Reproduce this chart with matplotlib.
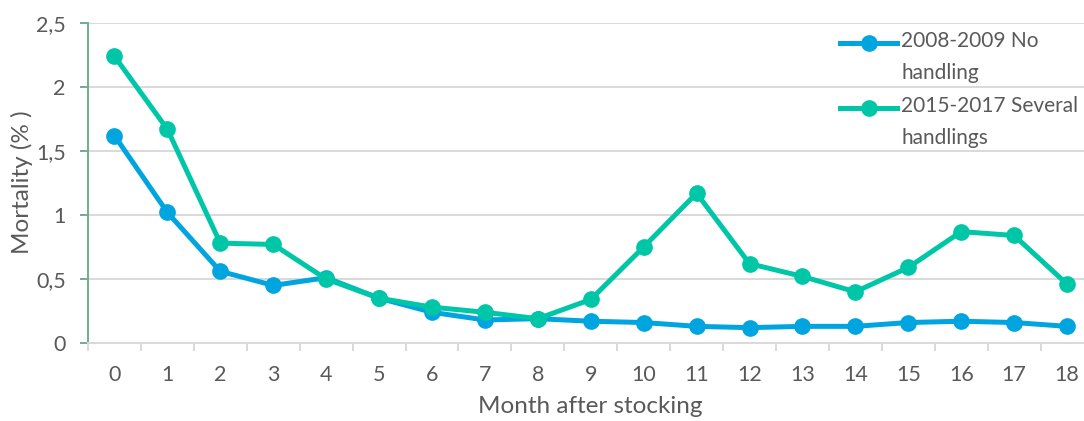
import matplotlib
matplotlib.use("Agg")
import matplotlib.pyplot as plt
import matplotlib.transforms as mtransforms
from matplotlib.legend_handler import HandlerLine2D
from matplotlib.ticker import FixedLocator, FuncFormatter

plt.rcParams["font.family"] = ["Lato", "DejaVu Sans"]

months = list(range(19))
no_handling = [1.62, 1.02, 0.56, 0.45, 0.51, 0.35, 0.24, 0.18, 0.19, 0.17,
               0.16, 0.13, 0.12, 0.13, 0.13, 0.16, 0.17, 0.16, 0.13]
several_handlings = [2.24, 1.67, 0.78, 0.77, 0.50, 0.35, 0.28, 0.24, 0.19, 0.34,
                     0.75, 1.17, 0.62, 0.52, 0.40, 0.59, 0.87, 0.84, 0.46]
series_labels = ["2008-2009 No\nhandling", "2015-2017 Several\nhandlings"]
y_ticks = [0, 0.5, 1, 1.5, 2, 2.5]

BLUE = "#00A5E0"
GREEN = "#00C6A8"
TEXT = "#595959"
GRID = "#D9D9D9"
AXIS_GREEN = "#70AD8E"

DPI = 100
W, H = 1084, 421
LEG_FS = 15
LEG_LS = 1.78          # line spacing inside the two-line legend labels
LEG_LINE_PX = 30       # resulting distance between the two lines, in pixels


class FirstLineHandler(HandlerLine2D):
    """Legend key aligned with the first line of a two-line label."""

    def create_artists(self, legend, orig_handle, xdescent, ydescent,
                       width, height, fontsize, trans):
        arts = super().create_artists(legend, orig_handle, xdescent, ydescent,
                                      width, height, fontsize, trans)
        shift = trans + mtransforms.Affine2D().translate(0, LEG_LINE_PX / 2)
        for a in arts:
            a.set_transform(shift)
        return arts


fig = plt.figure(figsize=(W / DPI, H / DPI), dpi=DPI)
ax = fig.add_axes([88 / W, 78 / H, 1005.5 / W, 320 / H])

ax.plot(months, no_handling, color=BLUE, lw=3.6, marker="o", ms=11,
        label=series_labels[0], zorder=3, solid_joinstyle="round")
ax.plot(months, several_handlings, color=GREEN, lw=3.6, marker="o", ms=11,
        label=series_labels[1], zorder=4, solid_joinstyle="round")

ax.set_xlim(-0.5, 18.5)
ax.set_ylim(0, 2.5)

ax.set_yticks(y_ticks)
ax.yaxis.set_major_formatter(FuncFormatter(lambda v, p: f"{v:g}".replace(".", ",")))
ax.set_xticks(months)
ax.xaxis.set_minor_locator(FixedLocator([m - 0.5 for m in months] + [18.5]))

ax.grid(axis="y", color=GRID, lw=1.4, zorder=0)
ax.set_axisbelow(True)

for s in ("top", "right"):
    ax.spines[s].set_visible(False)
ax.spines["bottom"].set_color(GRID)
ax.spines["bottom"].set_linewidth(1.4)
ax.spines["left"].set_color(AXIS_GREEN)
ax.spines["left"].set_linewidth(1.4)

ax.tick_params(axis="x", which="major", length=0, pad=16, labelsize=15.5, labelcolor=TEXT)
ax.tick_params(axis="x", which="minor", length=6, width=1.4, color=GRID)
ax.tick_params(axis="y", length=6, width=1.4, color=AXIS_GREEN, pad=10,
               labelsize=15.5, labelcolor=TEXT)

ax.set_xlabel("Month after stocking", fontsize=17.5, color=TEXT, labelpad=8)
fig.text(22 / W, 1 - 182 / H, "Mortality (% )", rotation=90, fontsize=17.5,
         color=TEXT, ha="center", va="center")

leg = ax.legend(loc="upper left", bbox_to_anchor=(840 / W, 1 - 31 / H),
                bbox_transform=fig.transFigure, frameon=False, fontsize=LEG_FS,
                handlelength=2.75, handletextpad=0.2, labelspacing=0.6,
                labelcolor=TEXT, borderaxespad=0, borderpad=0,
                handler_map={plt.Line2D: FirstLineHandler()})
for t in leg.get_texts():
    t.set_linespacing(LEG_LS)

fig.savefig("out.png", dpi=DPI)
